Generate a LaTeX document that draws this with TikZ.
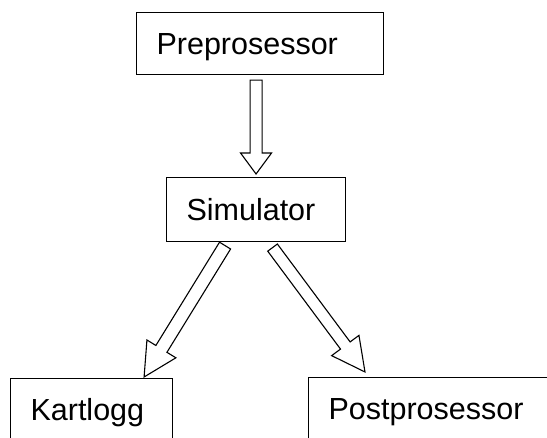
\documentclass[tikz,border=0pt]{standalone}
\usepackage{fontspec}
\setmainfont{Liberation Sans}
\usepackage{tikz}
\usetikzlibrary{calc}

% hollow block arrow: tail, tip, half shaft, half head, head length
\newcommand{\hollowarrow}[5]{%
    \coordinate (hb) at ($(#2)!#5!(#1)$);
    \draw [arrowline] ($(#1)!#3!90:(#2)$) -- ($(hb)!#3!90:(#2)$) --
         ($(hb)!#4!90:(#2)$) -- (#2) -- ($(hb)!#4!-90:(#2)$) --
         ($(hb)!#3!-90:(#2)$) -- ($(#1)!#3!-90:(#2)$) -- cycle;
}

\begin{document}
\begin{tikzpicture}[x=1pt,y=1pt,
    box/.style={draw, line width=1.1pt, anchor=north west, align=left,
        inner xsep=20pt, text height=21pt, text depth=0pt,
        font=\fontsize{30.5}{36}\selectfont},
    arrowline/.style={line width=1.1pt, line join=miter}]
    \useasboundingbox (0,0) rectangle (547,438);

    % Draw the boxes
    \node [box, text width=207pt, minimum height=62pt] (pre) at (136,426) {Preprosessor};
    \node [box, text width=139pt, minimum height=64pt] (sim) at (166,261) {Simulator};
    \node [box, text width=122pt, minimum height=62pt] (kart) at (10,60) {Kartlogg};
    \node [box, text width=220pt, minimum height=62pt] (post) at (308,61) {Postprosessor};

    % Draw the arrows
    \coordinate (t1) at ($(pre.south -| sim.north)+(0,-5pt)$);
    \coordinate (h1) at ($(sim.north)+(0,3pt)$);
    \hollowarrow{t1}{h1}{6pt}{15.5pt}{21pt}
    \coordinate (t2) at ($(sim.south)+(-31pt,-3.5pt)$);
    \coordinate (h2) at ($(kart.north east)+(-29pt,1pt)$);
    \hollowarrow{t2}{h2}{6.5pt}{17pt}{33pt}
    \coordinate (t3) at ($(sim.south)+(16.5pt,-5.5pt)$);
    \coordinate (h3) at ($(post.north west)+(57pt,5pt)$);
    \hollowarrow{t3}{h3}{6pt}{17pt}{33pt}

\end{tikzpicture}
\end{document}
